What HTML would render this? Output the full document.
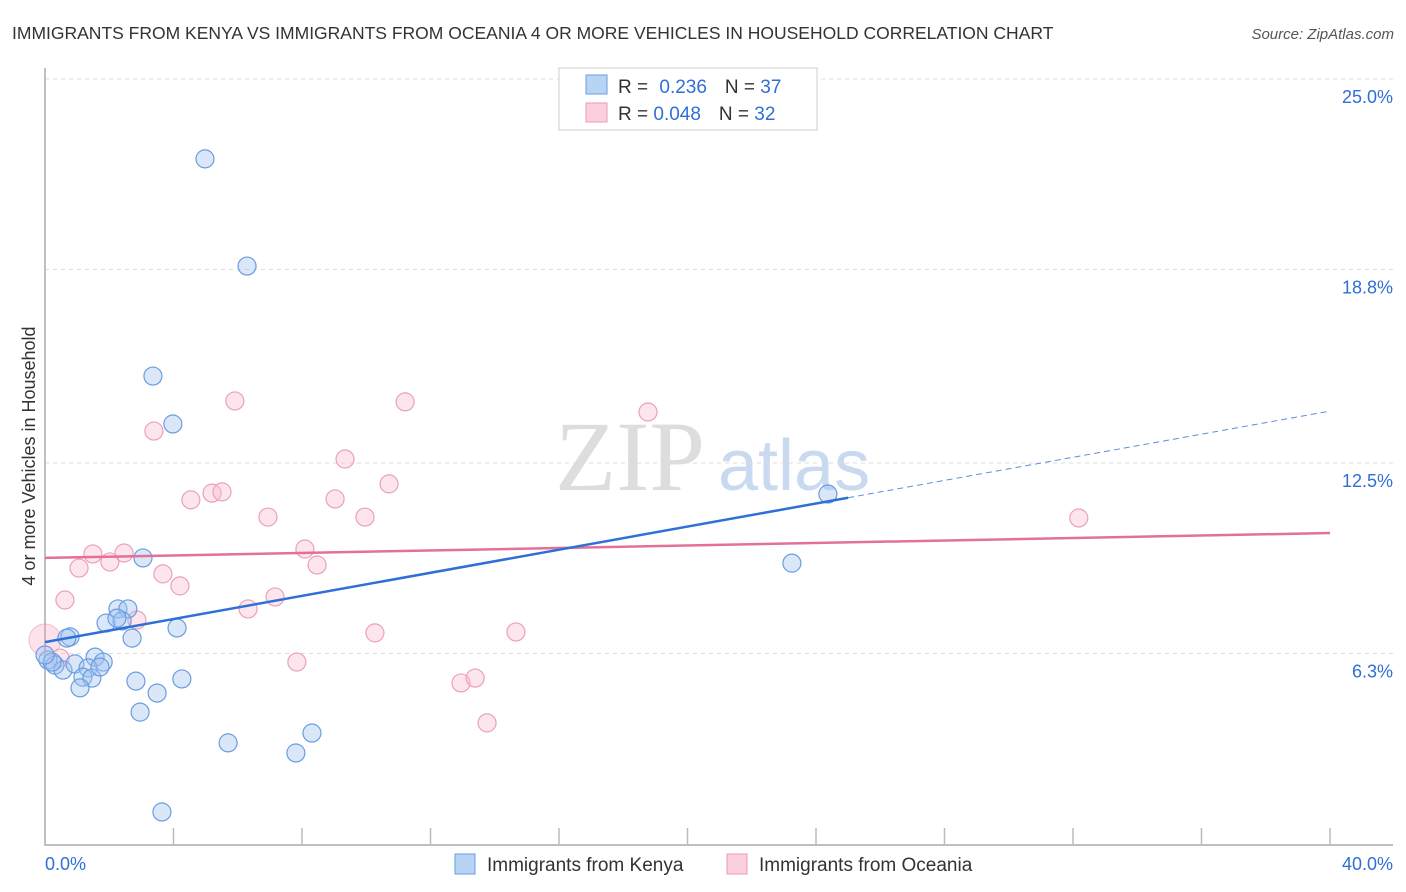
<!DOCTYPE html>
<html><head><meta charset="utf-8"><style>
body{margin:0;background:#fff;font-family:"Liberation Sans",sans-serif}
#c{position:absolute;left:0;top:0}
</style></head><body>
<svg id="c" width="1406" height="892" xmlns="http://www.w3.org/2000/svg">
<text x="12" y="39" font-size="17.5" fill="#333">IMMIGRANTS FROM KENYA VS IMMIGRANTS FROM OCEANIA 4 OR MORE VEHICLES IN HOUSEHOLD CORRELATION CHART</text>
<text x="1394" y="39" font-size="15" fill="#555" font-style="italic" text-anchor="end">Source: ZipAtlas.com</text>
<text x="35" y="456" font-size="18" fill="#333" text-anchor="middle" transform="rotate(-90 35 456)">4 or more Vehicles in Household</text>
<text x="555" y="490" font-size="100" fill="#ddd" font-family="Liberation Serif,serif">ZIP</text>
<text x="718" y="490" font-size="72" fill="#c9d9ef">atlas</text>
<g id="grid"></g><g id="pts"></g><g id="lines"></g>
<g>
<rect x="559" y="68" width="258" height="62" fill="#fff" stroke="#ccc"/>
<rect x="586" y="75" width="21" height="19" fill="#b8d4f5" stroke="#6a9de0"/>
<rect x="586" y="103" width="21" height="19" fill="#fbcfdd" stroke="#ec9ab5"/>
<text x="618" y="93" font-size="19" fill="#333">R = <tspan fill="#2f6fd6" dx="6">0.236</tspan><tspan dx="18" fill="#333">N = </tspan><tspan fill="#2f6fd6">37</tspan></text>
<text x="618" y="120" font-size="19" fill="#333">R = <tspan fill="#2f6fd6">0.048</tspan><tspan dx="18" fill="#333">N = </tspan><tspan fill="#2f6fd6">32</tspan></text>
</g>
<g>
<rect x="455" y="854" width="20" height="20" fill="#b8d4f5" stroke="#6a9de0"/>
<text x="487" y="871" font-size="19" fill="#333">Immigrants from Kenya</text>
<rect x="727" y="854" width="20" height="20" fill="#fbcfdd" stroke="#ec9ab5"/>
<text x="759" y="871" font-size="19" fill="#333">Immigrants from Oceania</text>
</g>
</svg>
<script>
const kenyaX=[4.98,6.29,3.36,3.98,3.05,24.37,23.25,2.27,2.58,1.90,2.40,4.11,0.78,2.71,0.09,0.31,0.56,0.93,1.56,1.81,1.34,1.18,1.46,1.71,2.83,4.26,1.09,3.49,2.96,5.70,7.81,8.31,3.64,0.22,0.0,0.68,2.24];
const kenyaY=[22.40,18.91,15.33,13.77,9.41,11.49,9.24,7.75,7.75,7.29,7.36,7.13,6.84,6.80,6.09,5.92,5.76,5.96,6.18,6.02,5.83,5.53,5.50,5.86,5.40,5.47,5.18,5.01,4.39,3.39,3.06,3.71,1.14,6.02,6.25,6.80,7.45];
const oceaniaX=[0.62,1.06,1.49,2.02,2.46,3.39,3.67,4.20,2.86,4.54,5.20,5.51,5.91,6.32,6.94,7.16,7.84,8.09,8.47,9.03,9.34,9.96,10.27,10.71,11.21,12.95,13.39,13.76,14.66,18.77,32.18,0.47];
const oceaniaY=[8.04,9.08,9.54,9.28,9.57,13.54,8.89,8.50,7.39,11.30,11.52,11.56,14.52,7.75,10.74,8.14,6.02,9.70,9.18,11.33,12.63,10.74,6.97,11.82,14.49,5.34,5.50,4.04,7.00,14.16,10.71,6.15];
const yTicks=[25.0,18.8,12.5,6.3];
const yTickLabels=["25.0%","18.8%","12.5%","6.3%"];
const kenyaTrend=[6.67,14.19]; // value at x=0 and x=40
const kenyaSolidEnd=25.0;
const oceaniaTrend=[9.41,10.22];
const NS="http://www.w3.org/2000/svg";
const X=v=>45+v/40*1285, Y=v=>847-v*30.72;
function mk(t,a,p){const e=document.createElementNS(NS,t);for(const k in a)e.setAttribute(k,a[k]);p.appendChild(e);return e;}
const grid=document.getElementById('grid');
yTicks.forEach((t,i)=>{
 const l=mk('line',{x1:45,x2:1393,y1:Y(t),y2:Y(t),stroke:'#ddd','stroke-dasharray':'4 4'},grid);
 
 
 const tx=mk('text',{x:1393,y:Y(t)+24,'font-size':18,fill:'#2f6fd6','text-anchor':'end'},grid);
 tx.textContent=yTickLabels[i];
 
 
});
const ax=mk('path',{d:'M45 68 V845 H1393',fill:'none',stroke:'#aaa','stroke-width':1.5},grid);


for(let i=1;i<=10;i++){const tk=mk('line',{x1:X(i*4),x2:X(i*4),y1:828,y2:845,stroke:'#bbb','stroke-width':1.5},grid);
 
 }
const x0=mk('text',{x:45,y:870,'font-size':18,fill:'#2f6fd6'},grid);x0.textContent='0.0%';


const x1=mk('text',{x:1393,y:870,'font-size':18,fill:'#2f6fd6','text-anchor':'end'},grid);x1.textContent='40.0%';


const pts=document.getElementById('pts');
const big=mk('circle',{cx:X(0),cy:Y(6.74),r:16,fill:'rgba(244,160,190,0.3)',stroke:'rgba(236,140,170,0.5)'},pts);


oceaniaX.forEach((v,i)=>{const c=mk('circle',{cx:X(v),cy:Y(oceaniaY[i]),r:9,fill:'rgba(248,190,210,0.4)',stroke:'#eca0b9','stroke-width':1.2},pts);
 
 });
kenyaX.forEach((v,i)=>{const c=mk('circle',{cx:X(v),cy:Y(kenyaY[i]),r:9,fill:'rgba(160,195,240,0.4)',stroke:'#6a9de0','stroke-width':1.2},pts);
 
 });
const ln=document.getElementById('lines');
const kAt=v=>kenyaTrend[0]+(kenyaTrend[1]-kenyaTrend[0])*v/40;
const oL=mk('line',{x1:X(0),y1:Y(oceaniaTrend[0]),x2:X(40),y2:Y(oceaniaTrend[1]),stroke:'#e2709a','stroke-width':2.5},ln);


const kL=mk('line',{x1:X(0),y1:Y(kAt(0)),x2:X(kenyaSolidEnd),y2:Y(kAt(kenyaSolidEnd)),stroke:'#2f6fd6','stroke-width':2.5},ln);


const kD=mk('line',{x1:X(kenyaSolidEnd),y1:Y(kAt(kenyaSolidEnd)),x2:X(40),y2:Y(kAt(40)),stroke:'#5b8fdc','stroke-width':1,'stroke-dasharray':'6 4'},ln);


</script>
</body></html>
